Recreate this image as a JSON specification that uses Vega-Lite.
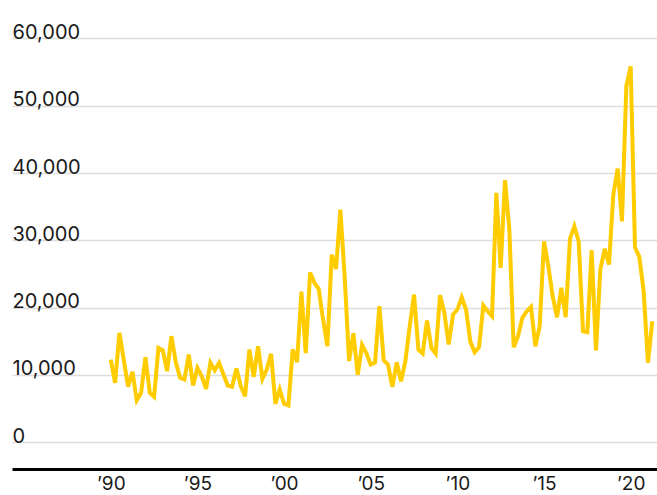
{
  "$schema": "https://vega.github.io/schema/vega-lite/v6.json",
  "autosize": "none",
  "width": 645,
  "height": 444,
  "padding": {"left": 12, "top": 25, "right": 0, "bottom": 26},
  "background": "white",
  "config": {"view": {"stroke": null}},
  "data": {"values": [
    {"t": 1990.00, "v": 12270}, {"t": 1990.25, "v": 8810}, {"t": 1990.50, "v": 16240}, {"t": 1990.75, "v": 12200},
    {"t": 1991.00, "v": 8220}, {"t": 1991.25, "v": 10450}, {"t": 1991.50, "v": 6230}, {"t": 1991.75, "v": 7330},
    {"t": 1992.00, "v": 12620}, {"t": 1992.25, "v": 7330}, {"t": 1992.50, "v": 6730}, {"t": 1992.75, "v": 14010},
    {"t": 1993.00, "v": 13660}, {"t": 1993.25, "v": 10540}, {"t": 1993.50, "v": 15740}, {"t": 1993.75, "v": 11900},
    {"t": 1994.00, "v": 9560}, {"t": 1994.25, "v": 9300}, {"t": 1994.50, "v": 13020}, {"t": 1994.75, "v": 8410},
    {"t": 1995.00, "v": 11040}, {"t": 1995.25, "v": 9790}, {"t": 1995.50, "v": 7920}, {"t": 1995.75, "v": 11780},
    {"t": 1996.00, "v": 10680}, {"t": 1996.25, "v": 11780}, {"t": 1996.50, "v": 10050}, {"t": 1996.75, "v": 8410},
    {"t": 1997.00, "v": 8220}, {"t": 1997.25, "v": 10940}, {"t": 1997.50, "v": 8310}, {"t": 1997.75, "v": 6820},
    {"t": 1998.00, "v": 13760}, {"t": 1998.25, "v": 9700}, {"t": 1998.50, "v": 14250}, {"t": 1998.75, "v": 9410},
    {"t": 1999.00, "v": 10790}, {"t": 1999.25, "v": 13120}, {"t": 1999.50, "v": 5690}, {"t": 1999.75, "v": 7820},
    {"t": 2000.00, "v": 5690}, {"t": 2000.25, "v": 5440}, {"t": 2000.50, "v": 13760}, {"t": 2000.75, "v": 11900},
    {"t": 2001.00, "v": 22350}, {"t": 2001.25, "v": 13230}, {"t": 2001.50, "v": 25200}, {"t": 2001.75, "v": 23670},
    {"t": 2002.00, "v": 22750}, {"t": 2002.25, "v": 18220}, {"t": 2002.50, "v": 14250}, {"t": 2002.75, "v": 27880},
    {"t": 2003.00, "v": 25750}, {"t": 2003.25, "v": 34560}, {"t": 2003.50, "v": 24460}, {"t": 2003.75, "v": 12050},
    {"t": 2004.00, "v": 16180}, {"t": 2004.25, "v": 9990}, {"t": 2004.50, "v": 14440}, {"t": 2004.75, "v": 13210},
    {"t": 2005.00, "v": 11530}, {"t": 2005.25, "v": 11830}, {"t": 2005.50, "v": 20200}, {"t": 2005.75, "v": 12160},
    {"t": 2006.00, "v": 11500}, {"t": 2006.25, "v": 8220}, {"t": 2006.50, "v": 11870}, {"t": 2006.75, "v": 9050},
    {"t": 2007.00, "v": 12020}, {"t": 2007.25, "v": 17220}, {"t": 2007.50, "v": 21930}, {"t": 2007.75, "v": 13760},
    {"t": 2008.00, "v": 13170}, {"t": 2008.25, "v": 18070}, {"t": 2008.50, "v": 14010}, {"t": 2008.75, "v": 13170},
    {"t": 2009.00, "v": 21830}, {"t": 2009.25, "v": 19210}, {"t": 2009.50, "v": 14500}, {"t": 2009.75, "v": 18960},
    {"t": 2010.00, "v": 19700}, {"t": 2010.25, "v": 21530}, {"t": 2010.50, "v": 19700}, {"t": 2010.75, "v": 14900},
    {"t": 2011.00, "v": 13360}, {"t": 2011.25, "v": 14100}, {"t": 2011.50, "v": 20300}, {"t": 2011.75, "v": 19450},
    {"t": 2012.00, "v": 18710}, {"t": 2012.25, "v": 37050}, {"t": 2012.50, "v": 25900}, {"t": 2012.75, "v": 38920},
    {"t": 2013.00, "v": 31590}, {"t": 2013.25, "v": 14100}, {"t": 2013.50, "v": 15740}, {"t": 2013.75, "v": 18470},
    {"t": 2014.00, "v": 19450}, {"t": 2014.25, "v": 20110}, {"t": 2014.50, "v": 14250}, {"t": 2014.75, "v": 17220},
    {"t": 2015.00, "v": 29850}, {"t": 2015.25, "v": 26140}, {"t": 2015.50, "v": 21680}, {"t": 2015.75, "v": 18560},
    {"t": 2016.00, "v": 22930}, {"t": 2016.25, "v": 18560}, {"t": 2016.50, "v": 30260}, {"t": 2016.75, "v": 32080},
    {"t": 2017.00, "v": 29850}, {"t": 2017.25, "v": 16480}, {"t": 2017.50, "v": 16330}, {"t": 2017.75, "v": 28520},
    {"t": 2018.00, "v": 13610}, {"t": 2018.25, "v": 25650}, {"t": 2018.50, "v": 28720}, {"t": 2018.75, "v": 26390},
    {"t": 2019.00, "v": 36790}, {"t": 2019.25, "v": 40660}, {"t": 2019.50, "v": 32830}, {"t": 2019.75, "v": 52890},
    {"t": 2020.00, "v": 55860}, {"t": 2020.25, "v": 28960}, {"t": 2020.50, "v": 27540}, {"t": 2020.75, "v": 22420},
    {"t": 2021.00, "v": 11780}, {"t": 2021.25, "v": 17970}
  ]},
  "mark": {"type": "line", "color": "#FFCC00", "strokeWidth": 4, "clip": false},
  "encoding": {
    "x": {
      "field": "t", "type": "quantitative",
      "scale": {"domain": [1984.3, 2021.52], "nice": false, "zero": false},
      "axis": {
        "title": null,
        "values": [1990, 1995, 2000, 2005, 2010, 2015, 2020],
        "labelExpr": "'’' + substring(toString(datum.value), 2, 4)",
        "grid": false,
        "ticks": false,
        "tickSize": 0,
        "domain": true,
        "domainColor": "#000000",
        "domainWidth": 3,
        "labelPadding": 5,
        "labelFlush": false,
        "labelFont": "Inter",
        "labelFontSize": 19,
        "labelColor": "#1a1a1a"
      }
    },
    "y": {
      "field": "v", "type": "quantitative",
      "scale": {"domain": [-4000, 62000], "nice": false, "zero": false},
      "axis": {
        "title": null,
        "values": [0, 10000, 20000, 30000, 40000, 50000, 60000],
        "format": ",d",
        "grid": true,
        "gridColor": "#dddddd",
        "gridWidth": 1.5,
        "domain": false,
        "ticks": false,
        "tickSize": 0,
        "labelAlign": "left",
        "labelBaseline": "alphabetic",
        "labelPadding": 0,
        "labelDy": -8,
        "labelFont": "Inter",
        "labelFontSize": 20,
        "labelColor": "#1a1a1a"
      }
    }
  }
}
